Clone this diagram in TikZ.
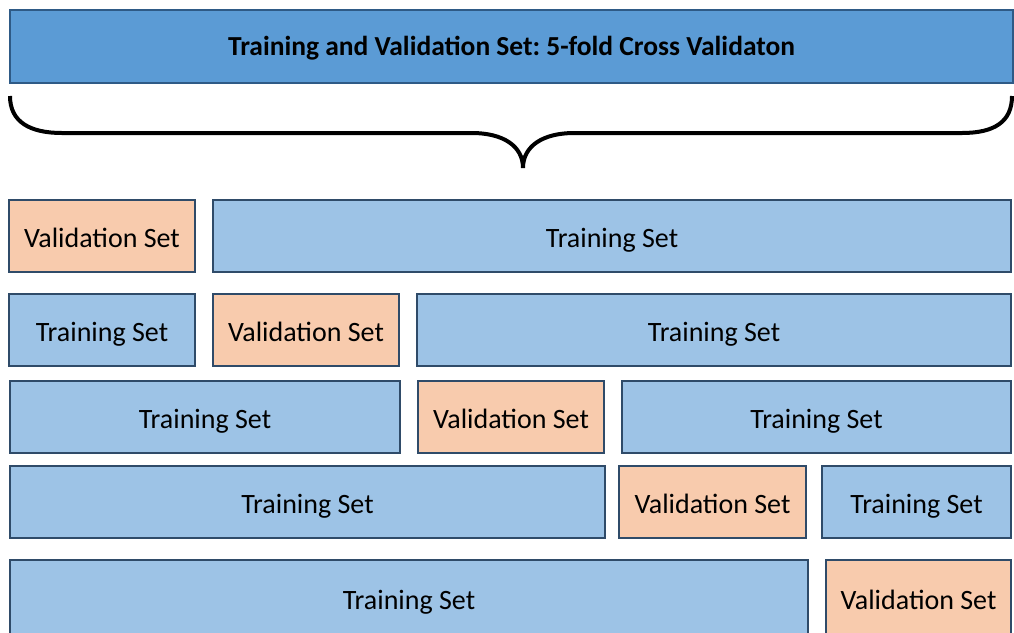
\documentclass[tikz,border=0pt]{standalone}
\usepackage{fontspec}
\setmainfont{Carlito}
\usetikzlibrary{positioning}

\definecolor{cvfill}{HTML}{5B9BD5}
\definecolor{cvedge}{HTML}{2E5A86}
\definecolor{trainfill}{HTML}{9DC3E6}
\definecolor{valfill}{HTML}{F8CBAD}
\definecolor{foldedge}{HTML}{2F4B69}

\tikzstyle{fold}=[draw=foldedge,line width=2pt,minimum height=72pt,inner sep=0pt,outer sep=0pt,
  text height=24pt,text depth=2pt,font=\fontsize{28}{30}\selectfont,node distance=18pt]
\tikzstyle{trn}=[fold,fill=trainfill]
\tikzstyle{val}=[fold,fill=valfill,minimum width=186pt]
\tikzstyle{cvbox}=[draw=cvedge,fill=cvfill,line width=2pt,minimum width=1003pt,outer sep=0pt,
  minimum height=73pt,inner sep=0pt,text height=20pt,text depth=2pt,
  font=\fontsize{27.5}{30}\selectfont\bfseries\frenchspacing]

\begin{document}
\begin{tikzpicture}[x=1pt,y=-1pt]
  \useasboundingbox (0,0) rectangle (1014,632);

  % whole data set
  \node[cvbox,anchor=north west] (cv) at (10,10) {Training and Validation Set: 5-fold Cross Validaton};

  % curly brace under it
  \coordinate (bl) at (10,96);
  \coordinate (tip) at (523,168);
  \coordinate (br) at (1012,96);
  \draw[line width=4pt]
    (bl) .. controls (10,122) and (30,133) .. (62,133) -- (472,133)
    .. controls (503,133) and (523,146) .. (tip)
    .. controls (523,146) and (543,133) .. (574,133) -- (962,133)
    .. controls (994,133) and (1012,122) .. (br);

  % fold 1
  \node[val,anchor=north west] (v1) at (9,200) {Validation Set};
  \node[trn,minimum width=798pt,right=of v1] (t1b) {Training Set};

  % fold 2
  \node[trn,minimum width=186pt,anchor=north west] (t2a) at (9,294) {Training Set};
  \node[val,right=of t2a] (v2) {Validation Set};
  \node[trn,minimum width=594pt,right=of v2] (t2b) {Training Set};

  % fold 3
  \node[trn,minimum width=390pt,anchor=north west] (t3a) at (10,381) {Training Set};
  \node[val,right=of t3a] (v3) {Validation Set};
  \node[trn,minimum width=389pt,right=of v3] (t3b) {Training Set};

  % fold 4
  \node[trn,minimum width=595pt,anchor=north west] (t4a) at (10,466) {Training Set};
  \node[val,minimum width=187pt,right=14pt of t4a] (v4) {Validation Set};
  \node[trn,minimum width=189pt,right=16pt of v4] (t4b) {Training Set};

  % fold 5
  \node[trn,minimum width=798pt,minimum height=76pt,anchor=north west] (t5a) at (10,560) {Training Set};
  \node[val,minimum width=185pt,minimum height=76pt,right=of t5a] (v5) {Validation Set};
\end{tikzpicture}
\end{document}
